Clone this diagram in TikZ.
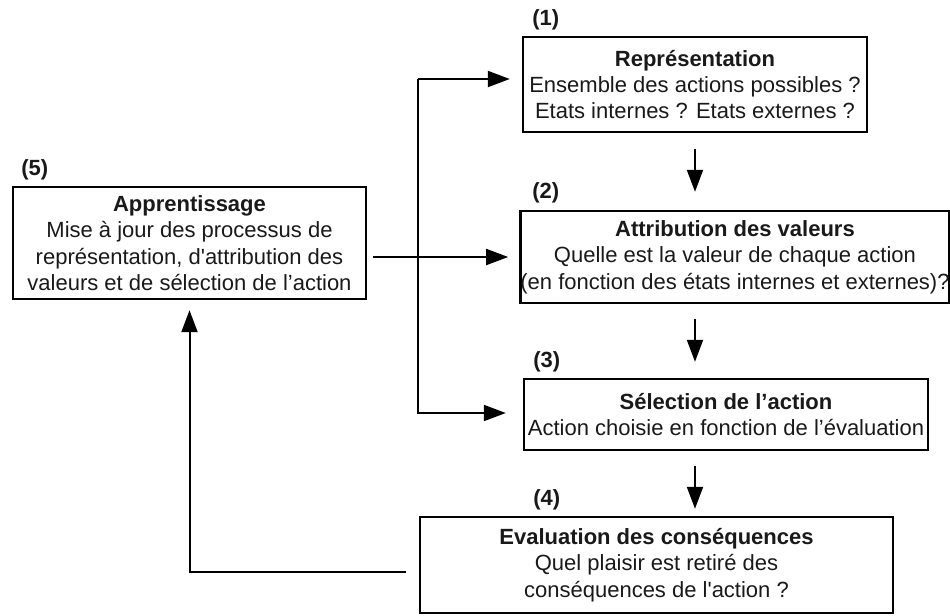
\documentclass[tikz,border=0pt]{standalone}
\usepackage{fontspec}
\setmainfont{Liberation Sans}[Ligatures=TeXOff]
\usepackage{tikz}
\usetikzlibrary{positioning, calc, arrows.meta}

\begin{document}
\begin{tikzpicture}[x=0.5pt, y=-0.5pt, every node/.style={font=\fontsize{11}{13.2}\selectfont, text=black!90},
	etape/.style={draw, line width=1.2pt, inner sep=0pt, align=center},
	numero/.style={font=\fontsize{11}{13.2}\selectfont\bfseries, anchor=west, inner sep=0pt},
	fleche/.style={-{Triangle[length=11pt, width=8pt]}, line width=1pt}]
				\useasboundingbox (0,0) rectangle (950,616);
				\pgfmathsetmacro{\numx}{532}
				\pgfmathsetmacro{\fourchex}{418}
				
				\node[etape, minimum width=172pt, minimum height=47.5pt] (repres) at (695,84.5) {\textbf{Représentation}\\Ensemble des actions possibles ?\\Etats internes ? Etats externes ?};
				\node[etape, minimum width=212pt, minimum height=46pt] (valeurs) at (735,257) {\textbf{Attribution des valeurs}\\Quelle est la valeur de chaque action\\(en fonction des états internes et externes)?};
				\node[etape, minimum width=202pt, minimum height=35.5pt] (selection) at (726,414.5) {\textbf{Sélection de l’action}\\Action choisie en fonction de l’évaluation};
				\node[etape, minimum width=236.5pt, minimum height=48pt] (evaluation) at (656.5,565) {\textbf{Evaluation des conséquences}\\Quel plaisir est retiré des\\conséquences de l'action ?};
				\node[etape, minimum width=176.5pt, minimum height=56pt] (apprent) at (189.5,243) {\textbf{Apprentissage}\\Mise à jour des processus de\\représentation, d'attribution des\\valeurs et de sélection de l’action};
				
				\node[numero] (num1) at (\numx,20) {(1)};
				\node[numero] (num2) at (\numx,193) {(2)};
				\node[numero] (num3) at (\numx+1,362) {(3)};
				\node[numero] (num4) at (\numx+1,500) {(4)};
				\node[numero] (num5) at (21,170) {(5)};
				
				\draw[fleche, shorten <=8pt, shorten >=9pt] (repres.south) -- (repres.south |- valeurs.north);
				\draw[fleche, shorten <=7.5pt, shorten >=8pt] (repres.south |- valeurs.south) -- (repres.south |- selection.north);
				\draw[fleche, shorten <=7.5pt, shorten >=3.5pt] (repres.south |- selection.south) -- (repres.south |- evaluation.north);
				
				\coordinate (fourchehaut) at (\fourchex,79);
				\coordinate (fourchebas) at (\fourchex,413);
				\draw[fleche, shorten <=3pt, shorten >=5.5pt] (apprent.east |- valeurs.west) -- (valeurs.west);
				\draw[fleche, shorten >=6pt] (fourchehaut) -- (fourchehaut -| repres.west);
				\draw[fleche, shorten >=8.5pt] (fourchehaut) -- (fourchebas) -- (fourchebas -| selection.west);
				
				\draw[fleche, shorten <=6.5pt, shorten >=5pt] ([yshift=-3.5pt]evaluation.west) -- ([yshift=-3.5pt]evaluation.west -| apprent.south) -- (apprent.south);
				\end{tikzpicture}
\end{document}
